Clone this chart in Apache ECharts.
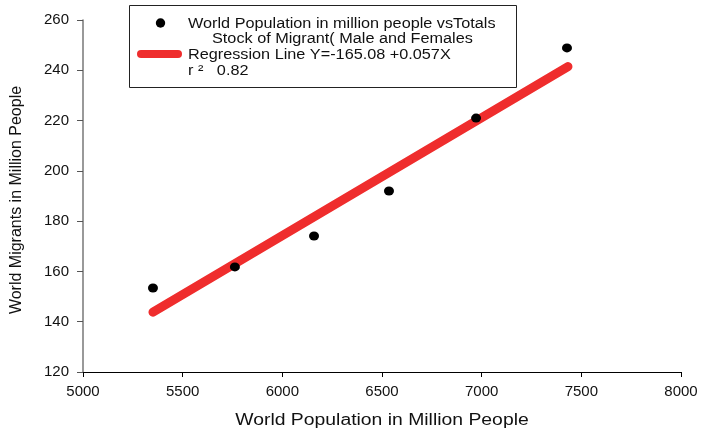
<!DOCTYPE html>
<html>
<head>
<meta charset="utf-8">
<script src="https://cdn.jsdelivr.net/npm/echarts@6/dist/echarts.min.js"></script>
<style>
  html, body { margin: 0; padding: 0; background: #fff; }
  #chart { width: 701px; height: 435px; }
</style>
</head>
<body>
<div id="chart"></div>
<script>
// World population (million) against total migrant stock (million)
const population = [5351, 5762, 6159, 6535, 6972, 7428];
const migrants = [153.4, 161.8, 174.1, 192.0, 221.0, 248.9];

// Fitted regression line, drawn between its two end points
const fitX = [5351, 7433];
const fitY = [143.8, 241.5];

const xTitle = 'World Population in Million People';
const yTitle = 'World Migrants in Million People';

const legendLines = [
  'World Population in million people vsTotals',
  'Stock of Migrant( Male and Females',
  'Regression Line Y=-165.08 +0.057X',
  'r \u00b2   0.82'
];

const FONT = 'Liberation Sans, Arial, sans-serif';
const RED = '#ef2d2d';
const TEXT = '#111';
const WIDE = 1.16; // horizontal stretch of the text face

const chart = echarts.init(document.getElementById('chart'));

const scatterData = population.map((x, i) => [x, migrants[i]]);
const fitData = fitX.map((x, i) => [x, fitY[i]]);

function legendText(str, x, y) {
  return {
    type: 'text', x: x, y: y, scaleX: WIDE,
    style: { text: str, font: '14px ' + FONT, fill: TEXT, verticalAlign: 'middle' }
  };
}

chart.setOption({
  animation: false,
  backgroundColor: '#fff',
  grid: { left: 83, right: 20, top: 20, bottom: 63, containLabel: false, outerBoundsMode: 'none' },
  xAxis: {
    type: 'value',
    min: 5000, max: 8000, interval: 500,
    axisLine: { show: true, onZero: false, lineStyle: { color: '#000', width: 1 } },
    axisTick: { show: true, inside: false, length: 5, lineStyle: { color: '#000' } },
    axisLabel: { fontFamily: FONT, fontSize: 15, color: TEXT, margin: 12, formatter: v => String(v) },
    splitLine: { show: false }
  },
  yAxis: {
    type: 'value',
    min: 120, max: 260, interval: 20,
    axisLine: { show: true, onZero: false, lineStyle: { color: '#777', width: 1.5 } },
    axisTick: { show: true, inside: false, length: 6, lineStyle: { color: '#555' } },
    axisLabel: { fontFamily: FONT, fontSize: 15, color: TEXT, margin: 14, formatter: v => String(v) },
    splitLine: { show: false }
  },
  series: [
    {
      name: 'Regression Line',
      type: 'line',
      data: fitData,
      symbol: 'none',
      lineStyle: { color: RED, width: 9, cap: 'round' },
      z: 2
    },
    {
      name: 'World Population vs Migrant Stock',
      type: 'scatter',
      data: scatterData,
      symbol: 'circle',
      symbolSize: [10, 9],
      itemStyle: { color: '#000', opacity: 1 },
      z: 3
    }
  ],
  graphic: [
    // axis titles
    {
      type: 'text', x: 382, y: 421, scaleX: 1.21,
      style: { text: xTitle, font: '16px ' + FONT, fill: TEXT, align: 'center', verticalAlign: 'middle' }
    },
    {
      type: 'text', x: 17, y: 200, rotation: Math.PI / 2,
      style: { text: yTitle, font: '16px ' + FONT, fill: TEXT, align: 'center', verticalAlign: 'middle' }
    },
    // legend box
    {
      type: 'rect',
      shape: { x: 129.5, y: 5.5, width: 387, height: 82 },
      style: { fill: '#fff', stroke: '#222', lineWidth: 1 }
    },
    {
      type: 'circle',
      shape: { cx: 160.5, cy: 23, r: 4.7 },
      style: { fill: '#000' }
    },
    {
      type: 'line',
      shape: { x1: 141, y1: 54, x2: 178, y2: 54 },
      style: { stroke: RED, lineWidth: 8, lineCap: 'round' }
    },
    legendText(legendLines[0], 188, 24),
    legendText(legendLines[1], 212, 39.5),
    legendText(legendLines[2], 188, 55),
    legendText(legendLines[3], 188, 71)
  ]
});
</script>
</body>
</html>
